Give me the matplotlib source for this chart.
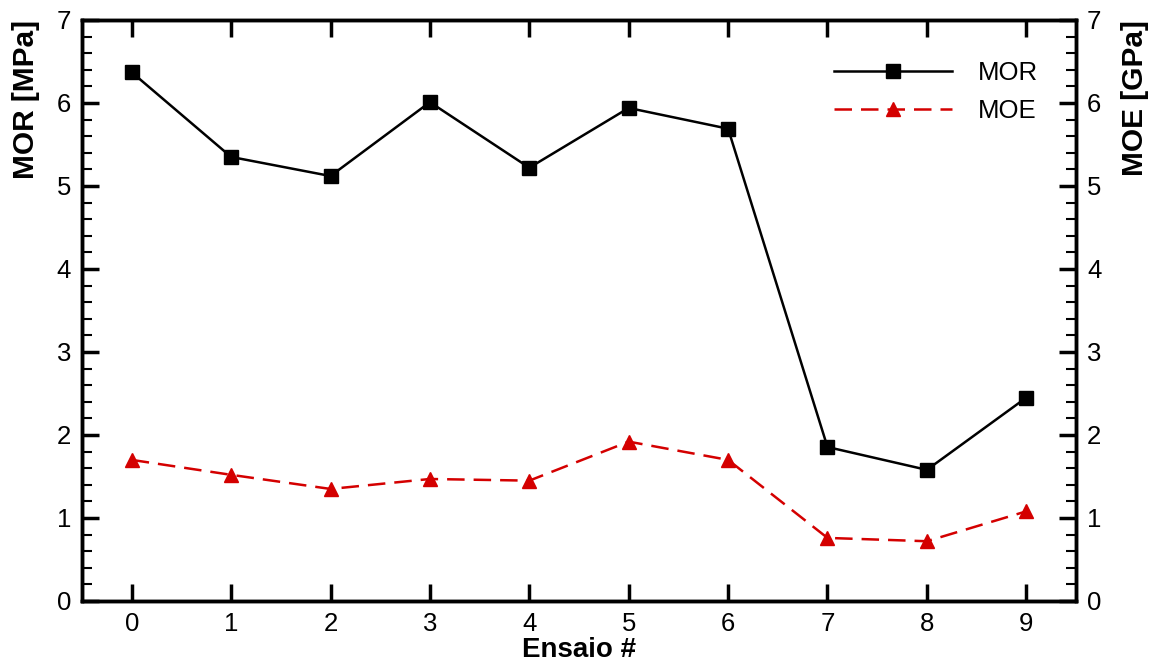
import matplotlib
matplotlib.use("Agg")
import matplotlib.pyplot as plt
from matplotlib.ticker import MultipleLocator

plt.rcParams['font.family'] = ['Liberation Sans', 'DejaVu Sans']

ensaio = [0, 1, 2, 3, 4, 5, 6, 7, 8, 9]
mor = [6.37, 5.35, 5.12, 6.01, 5.22, 5.94, 5.69, 1.855, 1.58, 2.45]
moe = [1.70, 1.52, 1.35, 1.47, 1.45, 1.92, 1.70, 0.76, 0.72, 1.08]

fig = plt.figure(figsize=(11.52, 6.66), dpi=100)
ax = fig.add_axes([0.0712, 0.0976, 0.8628, 0.8724])
ax2 = ax.twinx()

l1, = ax.plot(ensaio, mor, color='black', lw=1.8, marker='s', ms=10, label='MOR')
l2, = ax2.plot(ensaio, moe, color='#d40000', lw=1.8, ls=(0, (7, 3.6)), marker='^', ms=10, label='MOE')

for a in (ax, ax2):
    a.set_ylim(0, 7)
    a.yaxis.set_major_locator(MultipleLocator(1))
    a.yaxis.set_minor_locator(MultipleLocator(0.2))
    for s in a.spines.values():
        s.set_linewidth(2.5)
ax.set_xlim(-0.5, 9.5)
ax.set_xticks(ensaio)

ax.tick_params(axis='both', which='major', direction='in', length=12, width=2.5, labelsize=18.5, pad=8, top=True)
ax.tick_params(axis='y', which='minor', direction='in', length=7, width=1.5)
ax.tick_params(axis='x', which='major', pad=8)
ax2.tick_params(axis='y', which='major', direction='in', length=12, width=2.5, labelsize=18.5, pad=8)
ax2.tick_params(axis='y', which='minor', direction='in', length=7, width=1.5)

ax.set_xlabel('Ensaio #', fontsize=20, fontweight='bold', labelpad=1)
ax.set_ylabel('MOR [MPa]', fontsize=21.5, fontweight='bold', labelpad=12, loc='top')
ax2.set_ylabel('MOE [GPa]', fontsize=21.5, fontweight='bold', labelpad=14, loc='top')

leg = ax.legend(handles=[l1, l2], loc='upper right', bbox_to_anchor=(0.985, 0.97),
                frameon=False, fontsize=18.5, handlelength=4.6, handletextpad=1.0,
                labelspacing=0.55)

fig.savefig('out.png', dpi=100)
